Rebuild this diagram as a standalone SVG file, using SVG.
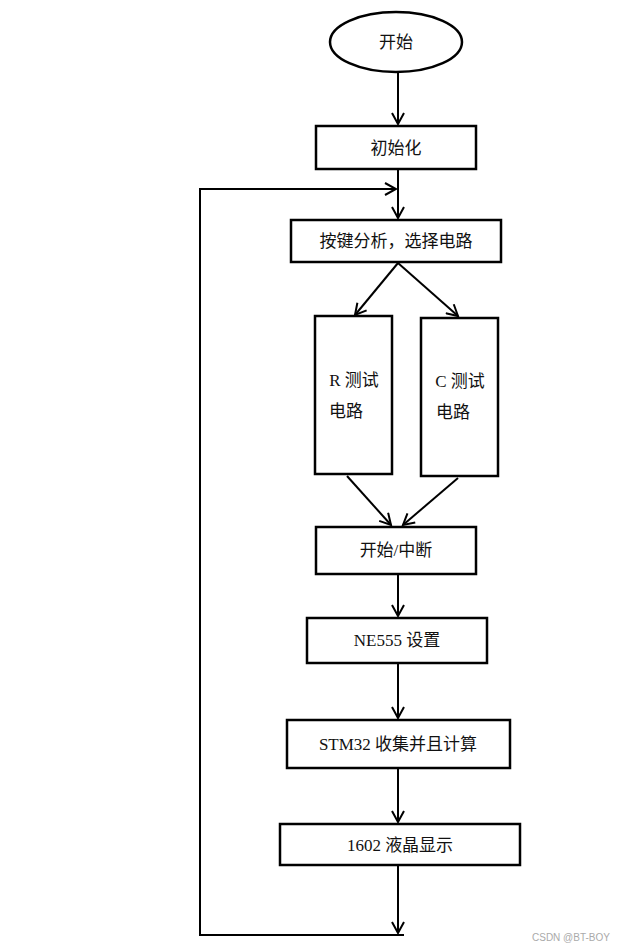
<svg xmlns="http://www.w3.org/2000/svg" width="618" height="948" viewBox="0 0 618 948">
<style>
.b{fill:#fff;stroke:#000;stroke-width:2.5}
.t{font-family:"Liberation Serif","Noto Sans CJK SC",serif;font-size:17px;fill:#111;text-anchor:middle}
.c line,.c path{stroke:#000;stroke-width:2;fill:none}
</style>
<defs><marker id="a" markerWidth="14" markerHeight="14" refX="12" refY="7" orient="auto" markerUnits="userSpaceOnUse"><path d="M1,1 L12,7 L1,13" fill="none" stroke="#000" stroke-width="2"/></marker></defs>
<rect width="618" height="948" fill="#fff"/>
<g class="c">
<line x1="398" y1="73" x2="398" y2="124" marker-end="url(#a)"/>
<line x1="398" y1="169" x2="398" y2="218" marker-end="url(#a)"/>
<path d="M404,935 L200,935 L200,189 L396,189" marker-end="url(#a)"/>
<line x1="398" y1="263" x2="355" y2="315" marker-end="url(#a)"/>
<line x1="398" y1="263" x2="458" y2="316" marker-end="url(#a)"/>
<line x1="347" y1="476" x2="391" y2="525" marker-end="url(#a)"/>
<line x1="458" y1="478" x2="403" y2="525" marker-end="url(#a)"/>
<line x1="398" y1="574" x2="398" y2="616" marker-end="url(#a)"/>
<line x1="398" y1="664" x2="398" y2="718" marker-end="url(#a)"/>
<line x1="398" y1="769" x2="398" y2="822" marker-end="url(#a)"/>
<line x1="398" y1="866" x2="398" y2="933" marker-end="url(#a)"/>
</g>
<g id="start"><ellipse class="b" cx="396" cy="42" rx="66" ry="30"/><text class="t" x="396" y="48">开始</text></g>
<g id="init"><rect class="b" x="316" y="126" width="160" height="43"/><text class="t" x="396" y="154">初始化</text></g>
<g id="key"><rect class="b" x="291" y="220" width="210" height="42"/><text class="t" x="396" y="247">按键分析，选择电路</text></g>
<g id="r"><rect class="b" x="315" y="316" width="77" height="158"/><text class="t" x="354" y="386">R 测试</text><text class="t" x="346" y="417">电路</text></g>
<g id="cc"><rect class="b" x="421" y="318" width="77" height="158"/><text class="t" x="460" y="387">C 测试</text><text class="t" x="453" y="418">电路</text></g>
<g id="int"><rect class="b" x="316" y="527" width="160" height="47"/><text class="t" x="396" y="556">开始/中断</text></g>
<g id="ne"><rect class="b" x="307" y="618" width="180" height="45"/><text class="t" x="397" y="646">NE555 设置</text></g>
<g id="stm"><rect class="b" x="287" y="720" width="223" height="48"/><text class="t" x="398" y="750">STM32 收集并且计算</text></g>
<g id="lcd"><rect class="b" x="280" y="824" width="240" height="41"/><text class="t" x="400" y="851">1602 液晶显示</text></g>
<text x="532" y="941" font-family="Liberation Sans,sans-serif" font-size="10" fill="#aaa">CSDN @BT-BOY</text>
</svg>
